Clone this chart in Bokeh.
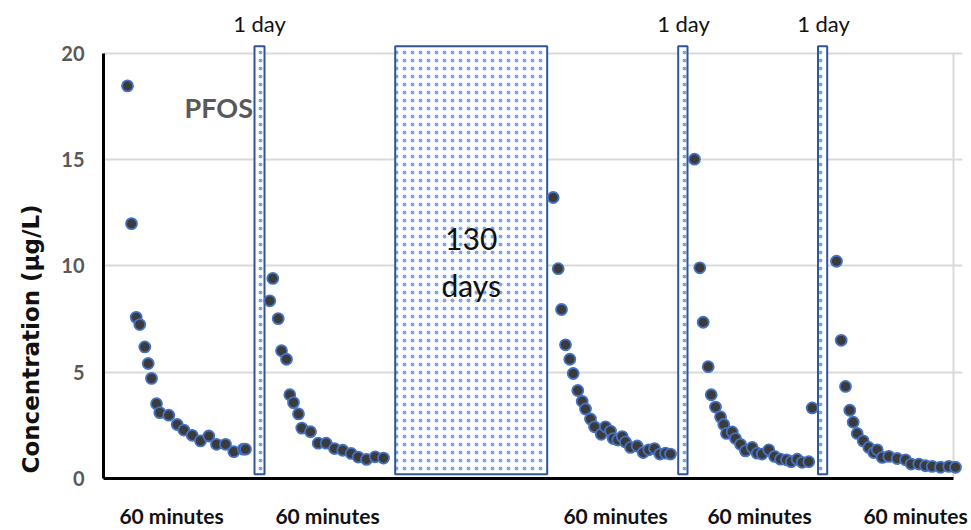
import numpy as np
from bokeh.plotting import figure
from bokeh.models import Range1d, Label, FixedTicker, ColumnDataSource, LinearAxis, Title
from bokeh.embed import file_html
from bokeh.resources import INLINE

# ---------------- data ----------------
# start of each 60-minute run on the shared time axis (axis units = minutes of chart space)
seg_start = [12.0, 83.15, 224.85, 295.5, 366.5]

seg1_t = [0, 2, 4.35, 6.15, 8.65, 10.35, 12, 14.5, 16.15, 20.65, 24.85, 28.15, 32.35,
          36.5, 40.65, 44.5, 49, 53.15, 57.85, 59]
seg1_c = [18.47, 11.99, 7.58, 7.24, 6.19, 5.41, 4.71, 3.52, 3.10, 2.98, 2.54, 2.28, 2.03,
          1.77, 2.0, 1.61, 1.61, 1.26, 1.38, 1.38]

seg2_t = [0, 1.5, 4.2, 5.85, 8.35, 10, 11.85, 14.35, 16, 20.35, 24.2, 28.2, 32.35, 36.5,
          40.7, 44.2, 48.35, 52.7, 56.85]
seg2_c = [8.36, 9.41, 7.52, 6.01, 5.61, 3.94, 3.57, 3.04, 2.37, 2.20, 1.66, 1.66, 1.41, 1.33,
          1.18, 1.01, 0.90, 1.02, 0.96]

seg3_t = [0, 2.5, 4.15, 6.15, 8.3, 10, 12.3, 14.5, 16.15, 18.65, 20.65, 24, 26.15, 28.65, 30,
          32.3, 34.5, 36.15, 38.65, 42, 45, 47.8, 50.65, 53.3, 56.15, 58.65]
seg3_c = [13.22, 9.87, 7.95, 6.29, 5.61, 4.94, 4.14, 3.63, 3.27, 2.80, 2.43, 2.08, 2.43, 2.23, 1.88,
          1.81, 1.97, 1.72, 1.46, 1.53, 1.22, 1.35, 1.41, 1.15, 1.19, 1.15]

seg4_t = [0, 2.65, 4.35, 6.85, 8.35, 10.5, 13, 14.65, 16, 18.85, 20.5, 23, 25.5, 28.85, 31.35,
          33.85, 37.15, 40, 43, 46, 48.35, 51.35, 53.85, 57.15, 58.85]
seg4_c = [15.02, 9.91, 7.35, 5.26, 3.94, 3.36, 2.90, 2.54, 2.12, 2.19, 1.88, 1.61, 1.30, 1.46, 1.19,
          1.15, 1.35, 1.04, 0.91, 0.88, 0.79, 0.91, 0.76, 0.79, 3.32]

seg5_t = [0, 2.35, 4.5, 6.65, 8.35, 10.35, 13.35, 16.15, 18.65, 20.35, 22.85, 26.15, 30.35, 34.5,
          37.35, 41.15, 44.5, 47.85, 52, 56.15, 59.5]
seg5_c = [10.22, 6.50, 4.33, 3.21, 2.65, 2.12, 1.77, 1.46, 1.22, 1.35, 0.99, 1.04, 0.94, 0.88,
          0.68, 0.68, 0.60, 0.57, 0.53, 0.57, 0.53]

seg_label = "60 minutes"
gap_labels = ["1 day", "130\ndays", "1 day", "1 day"]
gap_left = [75.5, 145.85, 287.35, 357.25]
gap_right = [80.5, 221.85, 292.0, 361.85]

y_ticks = [0, 5, 10, 15, 20]
series_name = "PFOS"
y_title = "Concentration (\u00b5g/L)"

# ---------------- layout ----------------
x_axis_end = 425.0
x_end = 429.5
y_end = 20.605
minute_label_x = [34, 112, 256, 328, 406]

segments = [(seg1_t, seg1_c), (seg2_t, seg2_c), (seg3_t, seg3_c), (seg4_t, seg4_c), (seg5_t, seg5_c)]
xs, ys = [], []
for s0, (t, c) in zip(seg_start, segments):
    xs += [s0 + v for v in t]
    ys += list(c)

p = figure(width=971, height=530, output_backend="svg", toolbar_location=None,
           x_range=Range1d(0, x_end), y_range=Range1d(0, y_end),
           min_border_left=103, min_border_right=9, min_border_top=40, min_border_bottom=47)
p.outline_line_color = None
p.background_fill_color = "white"
p.border_fill_color = "white"

# grid
p.xgrid.grid_line_color = None
p.ygrid.ticker = FixedTicker(ticks=y_ticks)
p.ygrid.grid_line_color = "#d9d9d9"
p.ygrid.grid_line_width = 2

# y axis
p.yaxis.ticker = FixedTicker(ticks=y_ticks)
p.yaxis.bounds = (0, max(y_ticks))
p.yaxis.axis_line_color = "black"
p.yaxis.axis_line_width = 3
p.yaxis.major_tick_line_color = None
p.yaxis.minor_tick_line_color = None
p.yaxis.major_tick_out = 0
p.yaxis.major_label_text_font = "Lato"
p.yaxis.major_label_text_font_style = "bold"
p.yaxis.major_label_text_font_size = "20px"
p.yaxis.major_label_text_color = "#595959"
p.yaxis.major_label_standoff = 19

# y title as a left-side title, aligned from the bottom of the frame
p.add_layout(Title(text=y_title, align="left", offset=5, standoff=29,
                   text_font="DejaVu Sans", text_font_style="bold",
                   text_font_size="23px", text_color="#111111"), "left")

# x axis with "60 minutes" labels
p.xaxis.bounds = (0, x_axis_end)
p.xaxis.ticker = FixedTicker(ticks=minute_label_x)
p.xaxis.major_label_overrides = {t: seg_label for t in minute_label_x}
p.xaxis.axis_line_color = "black"
p.xaxis.axis_line_width = 3
p.xaxis.major_tick_line_color = None
p.xaxis.minor_tick_line_color = None
p.xaxis.major_tick_out = 0
p.xaxis.major_label_standoff = 24
p.xaxis.major_label_text_font = "Lato"
p.xaxis.major_label_text_font_style = "bold"
p.xaxis.major_label_text_font_size = "21px"
p.xaxis.major_label_text_color = "#111111"

# top axis with "1 day" labels above the narrow gap boxes
day_ticks = [round((l + r) / 2) for lab, l, r in zip(gap_labels, gap_left, gap_right) if "\n" not in lab]
day_text = [lab for lab in gap_labels if "\n" not in lab]
top_axis = LinearAxis(ticker=FixedTicker(ticks=day_ticks),
                      major_label_overrides=dict(zip(day_ticks, day_text)),
                      axis_line_color=None, major_tick_line_color=None, minor_tick_line_color=None,
                      major_tick_out=0, minor_tick_out=0, major_label_standoff=4,
                      major_label_text_font="Lato", major_label_text_font_size="22px",
                      major_label_text_color="#111111")
p.add_layout(top_axis, "above")

# right border line of plot area
p.segment(x0=[x_axis_end], y0=[0], x1=[x_axis_end], y1=[max(y_ticks)],
          line_color="#d9d9d9", line_width=2)

# gap boxes
p.quad(left=gap_left, right=gap_right, bottom=0.2, top=20.33,
       fill_color="white", line_color="#2F5597", line_width=2,
       hatch_pattern="dot", hatch_color="#4472C4", hatch_scale=8, hatch_weight=1,
       hatch_alpha=0.65)

# points
src = ColumnDataSource(dict(x=xs, y=ys))
p.scatter("x", "y", source=src, size=11, fill_color="#3b3b3b",
          line_color="#4472C4", line_width=1.8)

# long gap label inside its box
for lab, l, r in zip(gap_labels, gap_left, gap_right):
    if "\n" in lab:
        p.add_layout(Label(x=(l + r) / 2, y=10.2, text=lab, text_align="center",
                           text_baseline="middle", text_font="Lato", text_font_size="30px",
                           text_color="#111111", text_line_height=1.3))

# series name
p.add_layout(Label(x=40.5, y=17.44, text=series_name, text_align="left", text_baseline="middle",
                   text_font="Lato", text_font_style="bold", text_font_size="27px",
                   text_color="#595959"))

open("out.html", "w").write(file_html(p, INLINE))
